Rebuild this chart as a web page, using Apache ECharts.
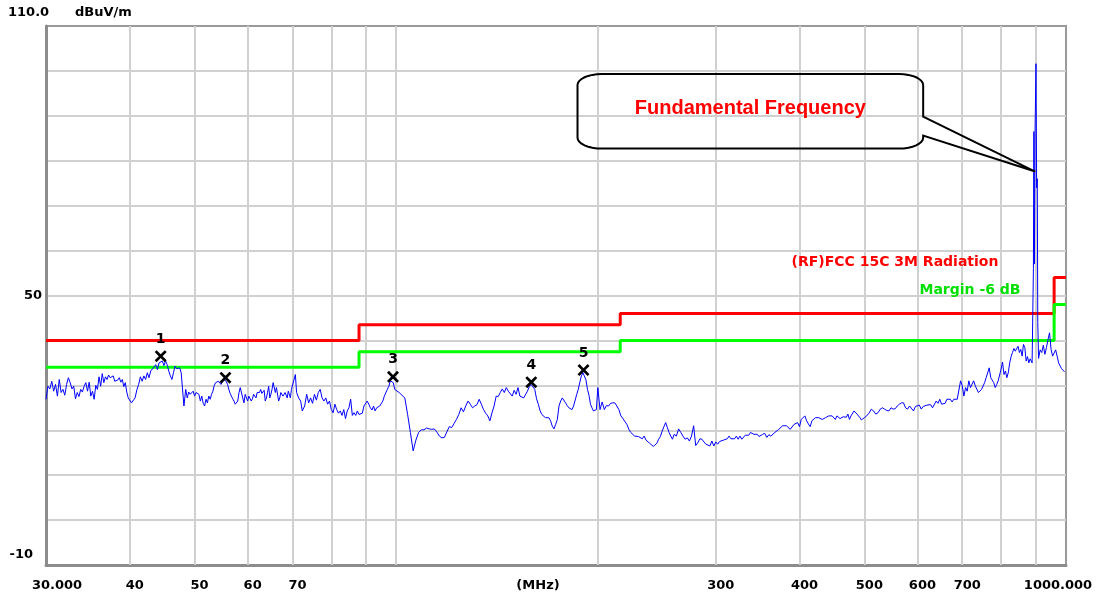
<!DOCTYPE html>
<html>
<head>
<meta charset="utf-8">
<title>Radiated emission scan</title>
<script src="https://cdn.jsdelivr.net/npm/echarts@6.0.0/dist/echarts.min.js"></script>
<style>
  html, body { margin: 0; padding: 0; background: #fff; }
  #chart { width: 1102px; height: 597px; }
</style>
</head>
<body>
<div id="chart"></div>
<script>
// measured trace [MHz, dBuV/m]
const trace = [
  [30, 26.9], [30.2, 29.8], [30.4, 29.2], [30.6, 30.9], [30.8, 28.7], [31, 30.2], [31.2, 27.6], [31.4, 31.3],
  [31.6, 28.4], [31.8, 29.1], [32, 27.8], [32.2, 30.2], [32.4, 31.7], [32.6, 30.6], [32.8, 29.2], [33, 29.8],
  [33.2, 27.0], [33.4, 28.4], [33.6, 27.5], [33.8, 29.1], [34, 28.5], [34.2, 29.8], [34.4, 30.6], [34.6, 28.7],
  [34.8, 30.7], [35, 27.6], [35.2, 28.7], [35.4, 26.9], [35.6, 30.0], [35.8, 29.1], [36, 31.9], [36.2, 29.8],
  [36.4, 32.6], [36.6, 30.6], [36.8, 31.9], [37, 31.3], [37.2, 32.3], [37.4, 31.7], [37.6, 31.9], [37.8, 32.1],
  [38, 30.9], [38.2, 31.3], [38.4, 31.2], [38.6, 31.7], [38.8, 30.7], [39, 31.3], [39.2, 29.7], [39.4, 30.6],
  [39.6, 28.5], [39.8, 27.2],
  [40, 26.9], [40.25, 26.1], [40.5, 26.1], [40.75, 27.2], [41, 29.0], [41.25, 30.2], [41.5, 31.9], [41.75, 30.9],
  [42, 32.1], [42.25, 31.3], [42.5, 32.8], [42.75, 31.7], [43, 33.2], [43.25, 32.8], [43.5, 34.1], [43.75, 34.6],
  [44, 33.5], [44.25, 35.0], [44.5, 35.2], [44.75, 35.4], [45, 34.4], [45.25, 35.4], [45.5, 34.6], [45.75, 33.2],
  [46, 32.1], [46.25, 31.3], [46.5, 32.8], [46.75, 34.3], [47, 33.7], [47.25, 33.9], [47.5, 33.9], [47.75, 32.8],
  [48, 33.2], [48.2, 25.4], [48.5, 29.1], [48.75, 27.2], [49, 28.5], [49.25, 28.0], [49.5, 28.4], [49.75, 28.7],
  [50, 27.6], [50.25, 28.4], [50.5, 28.0], [50.75, 28.0], [51, 26.5], [51.25, 27.6], [51.5, 26.0], [51.75, 25.4],
  [52, 26.9], [52.25, 26.1], [52.5, 27.6], [52.75, 26.9], [53, 28.0], [53.25, 28.7], [53.5, 30.0], [53.75, 30.6],
  [54, 30.2], [54.25, 30.9], [54.5, 30.7], [54.75, 30.2], [55, 30.6], [55.25, 31.3], [55.5, 31.3], [55.75, 30.9],
  [56, 30.2], [56.25, 29.1], [56.5, 28.2], [56.75, 28.0], [57, 27.0], [57.25, 26.5], [57.5, 25.8], [57.75, 26.1],
  [58, 26.5], [58.25, 28.4], [58.5, 29.5], [58.75, 29.8], [59, 27.2], [59.25, 26.1], [59.5, 28.0], [59.75, 28.4],
  [60, 26.5], [60.25, 27.6], [60.5, 27.5], [60.75, 26.5], [61, 27.0], [61.25, 28.0], [61.5, 27.8], [61.75, 27.2],
  [62, 28.4], [62.25, 28.0], [62.5, 28.4], [62.75, 29.1], [63, 28.2], [63.25, 28.0], [63.5, 28.9], [63.75, 26.5],
  [64, 27.2], [64.25, 28.4], [64.5, 29.8], [64.75, 27.2], [65, 28.0], [65.25, 29.1], [65.5, 30.6], [65.75, 30.9],
  [66, 28.4], [66.25, 29.5], [66.5, 29.1], [66.75, 26.5], [67, 27.2], [67.25, 28.4], [67.5, 28.7], [67.75, 27.6],
  [68, 28.0], [68.25, 28.4], [68.5, 28.2], [68.75, 27.2], [69, 28.7], [69.25, 29.1], [69.5, 27.2], [69.75, 29.1],
  [70, 28.7], [70.7, 32.4], [71, 28.4], [71.5, 27.2], [72, 26.5], [72.4, 24.3], [73, 25.4], [73.5, 28.0],
  [74, 26.1], [74.5, 27.2], [75, 26.0], [75.5, 28.0], [76, 26.7], [76.5, 28.4], [77, 29.1], [77.5, 27.2],
  [78, 26.5], [78.5, 27.2], [79, 25.8], [79.5, 26.5], [80, 24.6], [80.5, 23.9], [81, 25.8], [81.5, 24.6],
  [82, 23.8], [82.5, 24.3], [83, 23.3], [83.5, 24.6], [84, 22.6], [84.5, 24.3], [85, 25.0], [85.5, 26.9],
  [86, 23.3], [86.5, 23.9], [87, 23.3], [87.5, 24.3], [88, 23.5], [88.5, 23.2], [89, 23.8], [89.5, 25.4],
  [90, 25.5], [90.5, 26.5], [91, 25.8], [91.5, 25.0], [92, 24.5], [92.5, 25.4], [93, 24.3], [93.5, 25.0],
  [94, 24.7], [94.5, 25.4], [95, 25.8], [95.5, 26.5], [96, 27.6], [96.5, 28.0], [97, 29.1], [97.5, 29.8],
  [98, 31.0], [98.5, 30.9], [99, 30.6], [99.5, 29.1], [100, 28.7],
  [101, 28.4], [102, 27.8], [103, 27.2], [104, 23.5], [105, 19.5], [106, 15.4], [107, 17.8], [108, 19.5],
  [109, 20.1], [110, 20.1], [111, 20.5], [112, 20.3], [113, 20.2], [114, 20.3], [115, 19.6], [116, 18.7],
  [117, 18.3], [118, 18.4], [119, 19.6], [120, 20.8], [121, 20.6], [122, 21.5], [123, 22.4], [124, 23.5],
  [125, 25.0], [126, 24.1], [127, 25.4], [128, 26.5], [129, 25.8], [130, 25.0], [131, 25.4], [132, 25.7],
  [133, 26.9], [134, 25.8], [135, 24.6], [136, 23.8], [137, 23.2], [138, 22.1], [139, 23.9], [140, 25.4],
  [141, 27.6], [142, 27.5], [143, 28.4], [144, 29.2], [145, 28.4], [146, 29.5], [147, 28.7], [148, 28.7],
  [149, 27.6], [150, 28.9], [151, 28.0], [152, 29.5], [153, 27.6], [154, 28.0], [155, 27.2], [156, 27.6],
  [157, 28.7], [158, 29.7], [159, 30.2], [160, 29.8], [161, 29.1], [162, 27.0], [163, 25.8], [164, 24.3],
  [165, 23.5], [166, 23.5], [167, 22.8], [168, 22.8], [169, 22.8], [170, 22.1], [171, 20.9], [172, 20.3],
  [173, 21.3], [174, 22.4], [175, 25.4], [176, 26.5], [177, 27.2], [178, 27.0], [179, 26.1], [180, 25.5],
  [181, 25.0], [182, 24.8], [183, 24.6], [184, 25.4], [185, 25.8], [186, 28.0], [187, 29.1], [188, 30.7],
  [189, 32.1], [190, 32.8], [191, 32.4], [192, 31.2], [193, 29.1], [194, 27.8], [195, 25.8], [196, 25.0],
  [197, 24.3], [198, 23.9], [199, 24.6], [200, 29.5],
  [201.5, 24.6], [203, 26.3], [204.5, 24.6], [206, 25.5], [207.5, 25.4], [209, 26.0], [210.5, 26.1], [212, 26.1],
  [213.5, 25.4], [215, 24.6], [216.5, 23.2], [218, 22.6], [219.5, 22.8], [221, 21.3], [222.5, 20.2], [224, 19.5],
  [225.5, 19.1], [227, 18.7], [228.5, 18.9], [230, 18.6], [231.5, 18.3], [233, 18.1], [234.5, 18.7], [236, 17.8],
  [237.5, 18.0], [239, 17.1], [240.5, 16.9], [242, 16.4], [243.5, 16.1], [245, 17.1], [246.5, 18.0], [248, 18.6],
  [249.5, 19.8], [251, 20.8], [252.5, 21.7], [254, 20.6], [255.5, 19.5], [257, 18.7], [258.5, 18.0], [260, 19.1],
  [262, 18.7], [264, 20.3], [266, 19.5], [268, 18.7], [270, 18.0], [272, 18.3], [274, 17.6], [276, 18.7],
  [278, 21.0], [280, 16.6], [282, 17.2], [284, 18.1], [286, 18.0], [288, 17.4], [290, 16.9], [292, 17.2],
  [294, 16.5], [296, 17.6], [298, 16.5], [300, 17.4], [302, 16.9], [304, 17.5], [306, 17.2], [308, 17.8],
  [310, 17.6], [312, 18.1], [314, 18.7], [316, 18.1], [318, 18.3], [320, 18.1], [322, 18.7], [324, 18.0],
  [326, 18.7], [328, 18.0], [330, 18.3], [332, 18.9], [334, 19.1], [336, 18.9], [338, 19.5], [340, 19.1],
  [342, 19.1], [344, 19.1], [346, 19.1], [348, 18.6],
  [350, 18.9], [352.5, 19.1], [355, 19.3], [357.5, 18.4], [360, 19.0], [362.5, 18.7], [365, 19.1], [367.5, 19.5],
  [370, 19.3], [372.5, 20.2], [375, 20.5], [377.5, 21.0], [380, 20.7], [382.5, 21.0], [385, 20.6], [387.5, 20.2],
  [390, 20.5], [392.5, 21.3], [395, 21.0], [397.5, 21.7], [400, 20.8], [402.5, 22.4], [405, 22.3], [407.5, 23.2],
  [410, 22.1], [412.5, 21.4], [415, 20.8], [417.5, 22.1], [420, 22.3], [422.5, 22.8], [425, 22.6], [427.5, 22.8],
  [430, 22.4], [432.5, 22.4], [435, 22.2], [437.5, 22.8], [440, 22.6], [442.5, 23.2], [445, 23.5], [447.5, 23.2],
  [450, 23.3], [452.5, 22.4], [455, 23.2], [457.5, 23.6], [460, 22.6], [462.5, 22.4], [465, 23.0], [467.5, 23.2],
  [470, 22.9], [472.5, 23.6], [475, 22.4], [477.5, 23.2], [480, 23.6], [482.5, 24.3], [485, 23.9], [487.5, 23.6],
  [490, 23.2], [492.5, 22.8], [495, 22.3], [497.5, 22.1], [500, 22.8], [504, 23.2], [508, 23.8], [512, 24.7],
  [516, 24.3], [520, 23.6], [524, 23.9], [528, 24.7], [532, 25.0], [536, 24.7], [540, 24.4], [544, 24.3],
  [548, 25.0], [552, 24.7], [556, 24.8], [560, 25.4], [564, 25.8], [568, 26.1], [572, 26.1], [576, 25.0],
  [580, 24.7], [584, 25.4], [588, 25.0], [592, 24.3], [596, 25.3], [600, 25.0], [604, 25.6], [608, 24.7],
  [612, 25.3], [616, 25.0], [620, 25.6], [624, 25.4], [628, 25.7], [632, 25.0], [636, 25.4], [640, 26.5],
  [644, 26.0], [648, 26.9], [652, 25.8], [656, 26.2], [660, 26.0], [664, 26.9], [668, 26.9], [672, 26.9],
  [676, 26.3], [680, 26.9], [684, 26.7], [688, 26.9], [692, 27.2], [696, 31.0], [700, 29.9], [704, 27.6],
  [708, 29.5], [712, 28.7], [716, 31.0], [720, 29.5], [724, 29.1], [728, 31.0], [732, 29.9], [736, 29.9],
  [740, 28.4], [744, 28.0], [748, 29.1], [752, 28.7], [756, 30.6], [760, 31.7], [764, 31.5], [768, 33.9],
  [772, 31.7], [776, 32.1], [780, 30.6], [784, 29.5], [788, 30.2], [792, 31.0], [796, 30.6], [800, 33.6],
  [804, 35.2], [808, 32.4], [812, 33.2], [816, 31.7], [820, 32.8], [824, 35.0], [828, 36.4], [832, 37.3],
  [836, 38.2], [840, 37.6], [844, 37.9], [848, 38.7], [852, 37.3], [856, 38.0], [860, 36.5], [864, 39.1],
  [868, 38.4], [872, 35.4], [876, 36.4], [880, 35.0], [884, 35.9], [890, 35.0],
  [894, 56.0], [895.5, 86.5], [897, 57.0], [899, 86.0], [902, 101.6], [904, 74.0], [906, 76.0], [907.5, 44.0],
  [910, 36.0], [915, 37.9], [920, 37.3], [925, 38.9], [930, 36.9], [935, 38.4], [940, 40.2], [945, 41.7],
  [950, 38.0], [955, 36.5], [960, 36.9], [965, 37.9], [970, 36.5], [975, 35.0], [980, 34.3], [985, 33.7],
  [990, 33.4], [995, 33.0]
];

// FCC 15C 3M limit and -6 dB margin
const limitFreq = [30, 88, 88, 216, 216, 960, 960, 1000];
const limitLevel = [40, 40, 43.5, 43.5, 46, 46, 54, 54];
const marginLevel = [34, 34, 37.5, 37.5, 40, 40, 48, 48];

// peak markers
const markerNo = ['1', '2', '3', '4', '5'];
const markerFreq = [44.5, 55.6, 98.9, 159.1, 190.4];
const markerLevel = [36.5, 31.7, 31.9, 30.7, 33.4];

// frequency grid and tick labels
const gridFreq = [40, 50, 60, 70, 80, 90, 100, 200, 300, 400, 500, 600, 700, 800, 900];
const tickFreq = [30, 40, 50, 60, 70, 300, 400, 500, 600, 700, 1000];
const tickText = ['30.000', '40', '50', '60', '70', '300', '400', '500', '600', '700', '1000.000'];

// callout box, in data coordinates
const callout = { f0: 186.5, f1: 612, top: 99.3, bottom: 82.7, tailTop: 89.8, tailBottom: 85.6, tipF: 899.5, tipLevel: 77.6 };

const FONT = '"DejaVu Sans", Verdana, sans-serif';
const labelFont = { color: '#000', fontFamily: FONT, fontWeight: 'bold', fontSize: 13 };

const chart = echarts.init(document.getElementById('chart'));

const vGrid = gridFreq.map(f => ({ xAxis: f }));
const vLabels = tickFreq.map((f, i) => {
  let shift = 5;
  if (i === 0) shift = 11;
  if (i === tickFreq.length - 1) shift = -8;
  return {
    xAxis: f,
    lineStyle: { width: 0, color: 'rgba(0,0,0,0)', opacity: 1 },
    label: {
      show: true,
      opacity: 1,
      formatter: tickText[i],
      padding: shift > 0 ? [0, 0, 0, shift * 2] : [0, -shift * 2, 0, 0]
    }
  };
});

const option = {
  animation: false,
  backgroundColor: '#fff',
  grid: {
    left: 46, top: 26, right: 36, bottom: 31,
    show: true, borderColor: '#9a9a9a', borderWidth: 2
  },
  xAxis: {
    type: 'log', logBase: 10, min: 30, max: 1000,
    name: '(MHz)', nameLocation: 'middle', nameGap: 14,
    nameTextStyle: Object.assign({ padding: [0, 36, 0, 0] }, labelFont),
    axisLine: { show: true, onZero: false, lineStyle: { color: '#8c8c8c', width: 3 } },
    axisTick: { show: false },
    axisLabel: { show: false },
    splitLine: { show: false }
  },
  yAxis: {
    type: 'value', min: -10, max: 110, interval: 10,
    axisLine: { show: true, lineStyle: { color: '#8c8c8c', width: 3 } },
    axisTick: { show: false },
    axisLabel: Object.assign({
      margin: 4,
      formatter: v => (v === 50 ? '50' : (v === -10 ? '{m|-10}' : '')),
      rich: { m: Object.assign({ padding: [0, 9, 20, 0] }, labelFont) }
    }, labelFont),
    splitLine: { show: true, showMinLine: false, showMaxLine: false, lineStyle: { color: '#d0d0d0', width: 2 } }
  },
  series: [
    {
      name: 'grid', type: 'line', data: [], silent: true,
      markLine: {
        z: 1, silent: true, symbol: ['none', 'none'], animation: false,
        lineStyle: { color: '#d0d0d0', width: 2, type: 'solid' },
        label: Object.assign({ show: false, position: 'start', distance: 14 }, labelFont),
        emphasis: { disabled: true },
        data: vGrid.concat(vLabels)
      }
    },
    {
      name: 'limit', type: 'line', z: 3, symbol: 'none', silent: true,
      lineStyle: { color: '#ff0000', width: 3 },
      data: limitFreq.map((f, i) => [f, limitLevel[i]])
    },
    {
      name: 'margin', type: 'line', z: 3, symbol: 'none', silent: true,
      lineStyle: { color: '#00ff00', width: 3 },
      data: limitFreq.map((f, i) => [f, marginLevel[i]])
    },
    {
      name: 'trace', type: 'line', z: 4, symbol: 'none', silent: true,
      lineStyle: { color: '#0000ff', width: 1 },
      data: trace
    },
    {
      name: 'markers', type: 'scatter', z: 5, silent: true,
      symbol: 'path://M1.6,0L5,3.4L8.4,0L10,1.6L6.6,5L10,8.4L8.4,10L5,6.6L1.6,10L0,8.4L3.4,5L0,1.6Z',
      symbolSize: 12,
      itemStyle: { color: '#000', opacity: 1 },
      label: Object.assign({
        show: true, position: 'top', distance: 4,
        formatter: p => markerNo[p.dataIndex]
      }, labelFont, { fontSize: 14 }),
      data: markerFreq.map((f, i) => [f, markerLevel[i]])
    }
  ]
};

chart.setOption(option);

// texts and callout
const toPx = (f, v) => chart.convertToPixel({ gridIndex: 0 }, [f, v]);

const corner = (cx, cy, rx, ry, a0, a1, pts) => {
  for (let k = 0; k <= 8; k++) {
    const a = (a0 + (a1 - a0) * k / 8) * Math.PI / 180;
    pts.push([cx + rx * Math.cos(a), cy + ry * Math.sin(a)]);
  }
};

const [L, T] = toPx(callout.f0, callout.top);
const [R, B] = toPx(callout.f1, callout.bottom);
const tailA = toPx(callout.f1, callout.tailTop)[1];
const tailB = toPx(callout.f1, callout.tailBottom)[1];
const tip = toPx(callout.tipF, callout.tipLevel);
const rx = 24, ry = 11;
const pts = [];
corner(R - rx, T + ry, rx, ry, -90, 0, pts);
pts.push([R, tailA], tip, [R, tailB]);
corner(R - rx, B - ry, rx, ry, 0, 90, pts);
corner(L + rx, B - ry, rx, ry, 90, 180, pts);
corner(L + rx, T + ry, rx, ry, 180, 270, pts);
pts.push(pts[0]);

const text = (x, y, str, color, align, font) => ({
  type: 'text', x: x, y: y, z: 10, silent: true,
  style: {
    text: str, fill: color, font: font,
    textAlign: align, textVerticalAlign: 'middle', align: align, verticalAlign: 'middle'
  }
});

const smallFont = 'bold 13px ' + FONT;
const legendFont = 'bold 14px ' + FONT;

chart.setOption({
  graphic: [
    { type: 'polyline', z: 10, silent: true, shape: { points: pts }, style: { stroke: '#000', lineWidth: 2, fill: 'none' } },
    text((L + R) / 2, (T + B) / 2 - 3, 'Fundamental Frequency', '#ff0000', 'center', 'bold 20px "Liberation Sans", Arial, sans-serif'),
    text(8, 13, '110.0', '#000', 'left', smallFont),
    text(75, 13, 'dBuV/m', '#000', 'left', smallFont),
    text(895, 262, '(RF)FCC 15C 3M Radiation', '#ff0000', 'center', legendFont),
    text(970, 290, 'Margin -6 dB', '#00e000', 'center', legendFont)
  ]
});
</script>
</body>
</html>
